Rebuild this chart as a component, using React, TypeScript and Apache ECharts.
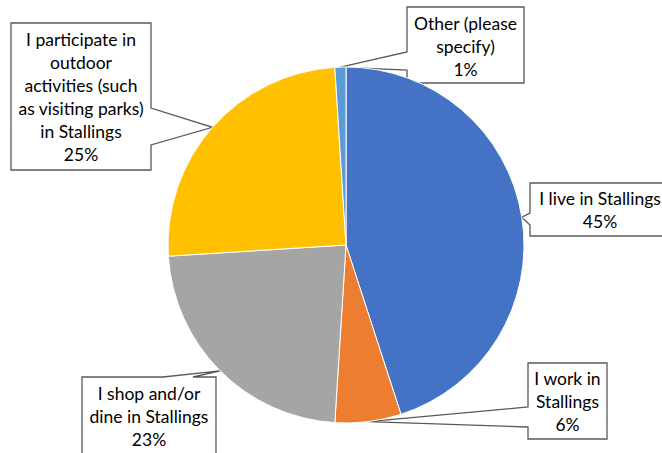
import React, { useEffect, useRef } from "react";
import * as echarts from "echarts";

const categories = [
  "I live in Stallings",
  "I work in\nStallings",
  "I shop and/or\ndine in Stallings",
  "I participate in\noutdoor\nactivities (such\nas visiting parks)\nin Stallings",
  "Other (please\nspecify)",
];
const values = [45, 6, 23, 25, 1];
const colors = ["#4472C4", "#ED7D31", "#A5A5A5", "#FFC000", "#5B9BD5"];

// callout boxes: rect + which edge the pointer leaves from and its base span
const boxes = [
  { x: 530, y: 183, w: 140, h: 53, edge: "left", a: 213, b: 225 },
  { x: 528, y: 363, w: 79, h: 76, edge: "left", a: 407, b: 427 },
  { x: 82, y: 377, w: 134, h: 90, edge: "top", a: 163, b: 193 },
  { x: 11, y: 23, w: 140, h: 147, edge: "right", a: 108, b: 145 },
  { x: 407, y: 7, w: 117, h: 76, edge: "left", a: 52, b: 70 },
];
const textCenters = [
  [600, 209.5],
  [567.5, 401],
  [149, 416],
  [81, 97],
  [465.5, 46.5],
];

const CX = 346;
const CY = 245;
const R = 178;

function calloutPoints(bx: any, tip: number[]) {
  const L = bx.x, T = bx.y, Rr = bx.x + bx.w, B = bx.y + bx.h;
  if (bx.edge === "top") {
    return [[L, T], [bx.a, T], tip, [bx.b, T], [Rr, T], [Rr, B], [L, B]];
  }
  if (bx.edge === "right") {
    return [[L, T], [Rr, T], [Rr, bx.a], tip, [Rr, bx.b], [Rr, B], [L, B]];
  }
  return [[L, T], [Rr, T], [Rr, B], [L, B], [L, bx.b], tip, [L, bx.a]];
}

export default function App() {
  const ref = useRef<HTMLDivElement>(null);
  useEffect(() => {
    if (!ref.current) return;
    const chart = echarts.init(ref.current, undefined, { renderer: "svg" });
    const option: any = {
      animation: false,
      backgroundColor: "#ffffff",
      series: [
        {
          type: "pie",
          center: [CX, CY],
          radius: R,
          startAngle: 90,
          clockwise: true,
          avoidLabelOverlap: false,
          itemStyle: { borderColor: "#ffffff", borderWidth: 1 },
          label: {
            show: true,
            formatter: (p: any) => `${p.name}\n${p.value}%`,
            fontFamily: "Lato",
            fontSize: 17.5,
            lineHeight: 23,
            color: "#000000",
            align: "center",
          },
          labelLine: { show: false },
          labelLayout: (params: any) => {
            const c = textCenters[params.dataIndex];
            return { x: c[0], y: c[1], align: "center", verticalAlign: "middle" };
          },
          data: categories.map((name, i) => ({
            name,
            value: values[i],
            itemStyle: { color: colors[i] },
          })),
        },
      ],
    };
    chart.setOption(option);

    let layouts: any[] = [];
    try {
      const data = (chart as any).getModel().getSeriesByIndex(0).getData();
      layouts = values.map((_, i) => data.getItemLayout(i));
    } catch (e) {
      layouts = [];
    }
    const total = values.reduce((s, v) => s + v, 0);
    let acc = 0;
    const tips = values.map((v, i) => {
      const lay = layouts[i];
      if (lay && lay.startAngle != null) {
        const mid = (lay.startAngle + lay.endAngle) / 2;
        return [lay.cx + lay.r * Math.cos(mid), lay.cy + lay.r * Math.sin(mid)];
      }
      const midDeg = ((acc + v / 2) / total) * 360;
      acc += v;
      const rad = (midDeg * Math.PI) / 180;
      return [CX + R * Math.sin(rad), CY - R * Math.cos(rad)];
    });

    chart.setOption({
      graphic: boxes.map((bx, i) => ({
        type: "polygon",
        z: 1,
        shape: { points: calloutPoints(bx, tips[i]) },
        style: { fill: "#ffffff", stroke: "#595959", lineWidth: 1.3 },
      })),
    });

    return () => chart.dispose();
  }, []);
  return (
    <div
      ref={ref}
      style={{ position: "fixed", left: 0, top: 0, width: 662, height: 453 }}
    />
  );
}
